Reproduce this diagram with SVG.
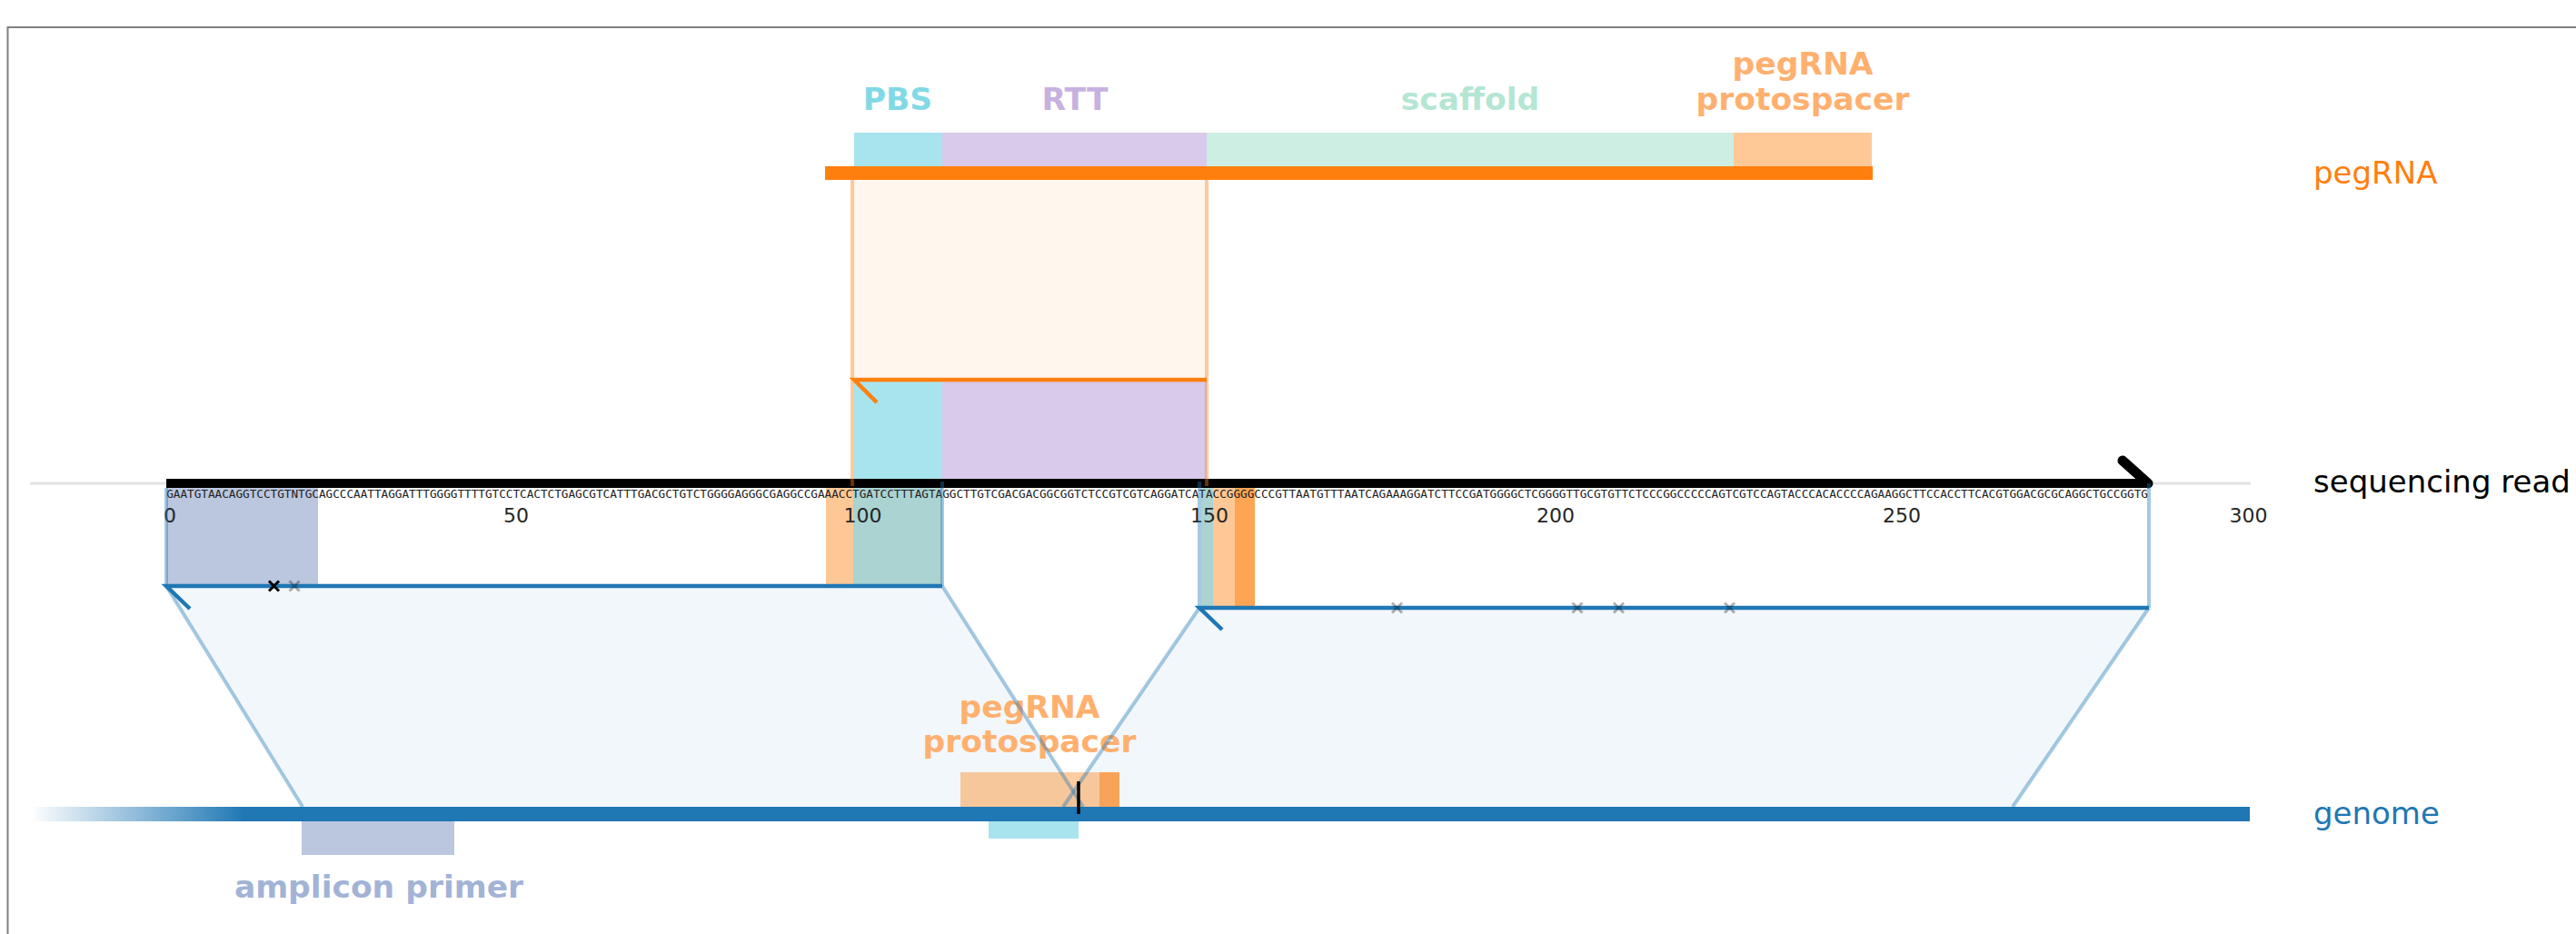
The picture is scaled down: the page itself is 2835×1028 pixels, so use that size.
<svg xmlns="http://www.w3.org/2000/svg" width="2835" height="1028" viewBox="0 0 2835 1028">
<style>
.bold{font-family:"DejaVu Sans","Liberation Sans",sans-serif;font-weight:bold;font-size:34.5px;text-anchor:middle}
.lbl{font-family:"DejaVu Sans","Liberation Sans",sans-serif;font-size:34px}
.tick{font-family:"DejaVu Sans","Liberation Sans",sans-serif;font-size:22px;fill:#262626;text-anchor:middle}
.seq{font-family:"DejaVu Sans Mono","Liberation Mono",monospace;font-size:12.67px;fill:#222}
.lb{stroke:#1f77b4;stroke-opacity:0.4;stroke-width:4;fill:none}
.al{stroke:#1f77b4;stroke-width:4.5;fill:none}
.ol{stroke:#ff7f0e;stroke-opacity:0.4;stroke-width:4;fill:none}
.mk{stroke:#000;stroke-width:3;fill:none}
.mkg{stroke:#000;stroke-opacity:0.3;stroke-width:3;fill:none}
</style>
<defs>
<linearGradient id="gfade" gradientUnits="userSpaceOnUse" x1="33" y1="0" x2="270" y2="0">
<stop offset="0" stop-color="#1f77b4" stop-opacity="0"/>
<stop offset="1" stop-color="#1f77b4" stop-opacity="1"/>
</linearGradient>
</defs>
<rect x="0" y="0" width="2835" height="1028" fill="#fff"/>
<path d="M8.5,1030 V30 H2840" fill="none" stroke="#808080" stroke-width="2"/>
<line x1="33" y1="532" x2="2477" y2="532" stroke="#e3e3e3" stroke-width="3"/>

<g id="pegRNA">
<rect x="938" y="197" width="390" height="330" fill="#ff7f0e" fill-opacity="0.07"/>
<rect x="940" y="146" width="97" height="37" fill="#a8e4ed"/>
<rect x="1037" y="146" width="291" height="37" fill="#d9c9ea"/>
<rect x="1328" y="146" width="580" height="37" fill="#cdeee2"/>
<rect x="1908" y="146" width="152" height="37" fill="#ffc997"/>
<rect x="908" y="183" width="1153" height="15" fill="#ff7f0e"/>
<text class="bold" x="988" y="121" fill="#82d9e6">PBS</text>
<text class="bold" x="1183" y="121" fill="#c7b1e0">RTT</text>
<text class="bold" x="1618" y="121" fill="#b4e6d4">scaffold</text>
<text class="bold" x="1984" y="82" fill="#ffb06f">pegRNA</text>
<text class="bold" x="1984" y="121" fill="#ffb06f">protospacer</text>
<text class="lbl" x="2546" y="202" fill="#ff7f0e">pegRNA</text>
</g>

<g id="alignment-fills">
<polygon points="183,645 1037,645 1192,888 333,888" fill="#1f77b4" fill-opacity="0.06"/>
<polygon points="1320,669 2365,669 2215,888 1170,888" fill="#1f77b4" fill-opacity="0.06"/>
</g>

<g id="read-annotations">
<rect x="183" y="537" width="167" height="108" fill="#bbc7df"/>
<rect x="909" y="537" width="30" height="108" fill="#fec896"/>
<rect x="939" y="537" width="98" height="108" fill="#aad3d2"/>
<rect x="1322" y="537" width="13" height="130" fill="#aad3d2"/>
<rect x="1335" y="537" width="24" height="130" fill="#fec896"/>
<rect x="1359" y="537" width="22" height="130" fill="#fea553"/>
</g>

<g id="pegRNA-on-read">
<rect x="940" y="420" width="97" height="107" fill="#a8e4ed"/>
<rect x="1037" y="420" width="291" height="107" fill="#d9c9ea"/>
</g>

<g id="sequencing-read">
<rect x="183" y="527" width="2181" height="10" fill="#000"/>
<path d="M2336,507 L2364,532" stroke="#000" stroke-width="11" stroke-linecap="round" fill="none"/>
<text class="seq" x="183.2" y="548" textLength="2180.75" lengthAdjust="spacing">GAATGTAACAGGTCCTGTNTGCAGCCCAATTAGGATTTGGGGTTTTGTCCTCACTCTGAGCGTCATTTGACGCTGTCTGGGGAGGGCGAGGCCGAAACCTGATCCTTTAGTAGGCTTGTCGACGACGGCGGTCTCCGTCGTCAGGATCATACCGGGGCCCGTTAATGTTTAATCAGAAAGGATCTTCCGATGGGGCTCGGGGTTGCGTGTTCTCCCGGCCCCCAGTCGTCCAGTACCCACACCCCAGAAGGCTTCCACCTTCACGTGGACGCGCAGGCTGCCGGTG</text>
<text class="tick" x="187" y="575">0</text>
<text class="tick" x="568" y="575">50</text>
<text class="tick" x="949.5" y="575">100</text>
<text class="tick" x="1331" y="575">150</text>
<text class="tick" x="1712" y="575">200</text>
<text class="tick" x="2093" y="575">250</text>
<text class="tick" x="2474.5" y="575">300</text>
<text class="lbl" x="2546" y="542" fill="#000">sequencing read</text>
</g>

<g id="pegRNA-alignment">
<line class="ol" x1="938" y1="198" x2="938" y2="535"/>
<line class="ol" x1="1328" y1="198" x2="1328" y2="535"/>
<path d="M965,443 L940,418 H1328" stroke="#ff7f0e" stroke-width="4.5" fill="none"/>
</g>

<g id="genome">
<rect x="1057" y="850" width="153" height="38" fill="#ff7f0e" fill-opacity="0.4"/>
<rect x="1210" y="850" width="22" height="38" fill="#f7a35a"/>
<rect x="33" y="888" width="2443" height="16" fill="url(#gfade)"/>
<rect x="268" y="888" width="2208" height="16" fill="#1f77b4"/>
<rect x="332" y="904" width="168" height="37" fill="#bbc7df"/>
<rect x="1088" y="904" width="99" height="19" fill="#a8e4ed"/>
<text class="bold" x="1133" y="790" fill="#ffb06f">pegRNA</text>
<text class="bold" x="1133" y="828" fill="#ffb06f">protospacer</text>
<text class="bold" x="417" y="988" fill="#a2b3d6">amplicon primer</text>
<text class="lbl" x="2546" y="907" fill="#1f77b4">genome</text>
</g>

<g id="connectors">
<line class="lb" x1="183" y1="537" x2="183" y2="645"/>
<line class="lb" x1="1037" y1="530" x2="1037" y2="645"/>
<line class="lb" x1="1320" y1="530" x2="1320" y2="669"/>
<line class="lb" x1="2365" y1="532" x2="2365" y2="669"/>
<line class="lb" x1="183" y1="645" x2="333" y2="888"/>
<line class="lb" x1="1037" y1="645" x2="1192" y2="888"/>
<line class="lb" x1="1320" y1="669" x2="1170" y2="888"/>
<line class="lb" x1="2365" y1="669" x2="2215" y2="888"/>
</g>

<g id="alignment-block-1">
<path class="al" d="M209,670 L183,645 H1037"/>
<path class="mk" d="M296,639.5 l11,11 M307,639.5 l-11,11"/>
<path class="mkg" d="M318.5,639.5 l11,11 M329.5,639.5 l-11,11"/>
</g>

<g id="alignment-block-2">
<path class="al" d="M1345,693 L1320,669 H2365"/>
<path class="mkg" d="M1532,663.5 l11,11 M1543,663.5 l-11,11"/>
<path class="mkg" d="M1730.5,663.5 l11,11 M1741.5,663.5 l-11,11"/>
<path class="mkg" d="M1776,663.5 l11,11 M1787,663.5 l-11,11"/>
<path class="mkg" d="M1898,663.5 l11,11 M1909,663.5 l-11,11"/>
</g>

<g id="cut-site">
<line x1="1187" y1="860" x2="1187" y2="896" stroke="#000" stroke-width="3.5"/>
</g>
</svg>
